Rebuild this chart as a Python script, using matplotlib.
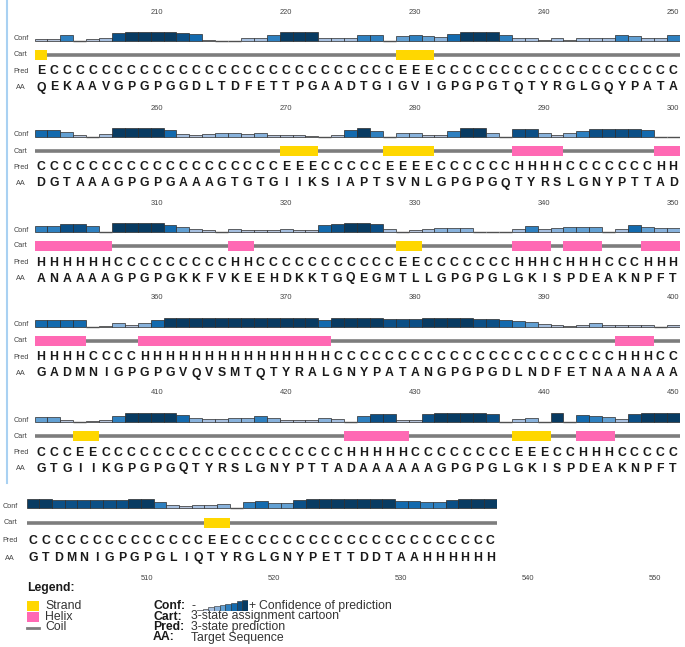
import matplotlib
matplotlib.use("Agg")
import matplotlib.pyplot as plt
from matplotlib.patches import Rectangle

plt.rcParams['font.family'] = ['Liberation Sans', 'DejaVu Sans']

# ---------------- data ----------------
row_start = [201, 251, 301, 351, 401, 501]

aa_1 = "QEKAAVGPGPGGDLTDFETTPGAADTGIGVIGPGPGTQTYRGLGQYPATA"
aa_2 = "DGTAAAGPGPGAAAGTGTGIIKSIAPTSVNLGPGPGQTYRSLGNYPTTAD"
aa_3 = "ANAAAAGPGPGKKFVKEEHDKKTGQEGMTLLGPGPGLGKISPDEAKNPFT"
aa_4 = "GADMNIGPGPGVQVSMTQTYRALGNYPATANGPGPGDLNDFETNAANAAA"
aa_5 = "GTGIIKGPGPGQTYRSLGNYPTTADAAAAAAGPGPGLGKISPDEAKNPFT"
aa_6 = "GTDMNIGPGPGLIQTYRGLGNYPETTDDTAAHHHHHH"

pred_1 = "ECCCCCCCCCCCCCCCCCCCCCCCCCCCEEECCCCCCCCCCCCCCCCCCC"
pred_2 = "CCCCCCCCCCCCCCCCCCCEEECCCCCEEEECCCCCCHHHHCCCCCCCHH"
pred_3 = "HHHHHHCCCCCCCCCHHCCCCCCCCCCCEECCCCCCCHHHCHHHCCCHHH"
pred_4 = "HHHHCCCCHHHHHHHHHHHHHHHCCCCCCCCCCCCCCCCCCCCCCHHHCC"
pred_5 = "CCCEECCCCCCCCCCCCCCCCCCCHHHHHCCCCCCCCEEECCHHHCCCCC"
pred_6 = "CCCCCCCCCCCCCCEECCCCCCCCCCCCCCCCCCCCC"

conf_1 = [2, 2, 6, 0, 2, 3, 8, 9, 9, 9, 9, 8, 7, 1, 0, 0, 3, 3, 6, 9,
          9, 9, 3, 3, 3, 6, 6, 0, 5, 6, 5, 4, 7, 9, 9, 9, 6, 3, 3, 1,
          3, 1, 3, 3, 3, 6, 5, 3, 3, 6]
conf_2 = [7, 7, 5, 2, 0, 3, 9, 9, 9, 9, 7, 3, 2, 3, 4, 4, 3, 4, 2, 2,
          2, 1, 0, 2, 7, 9, 6, 0, 4, 4, 2, 2, 6, 9, 9, 4, 0, 8, 8, 4,
          2, 4, 6, 8, 8, 8, 8, 7, 0, 0]
conf_3 = [6, 6, 8, 8, 6, 0, 9, 9, 9, 9, 7, 5, 3, 2, 0, 3, 2, 2, 2, 3,
          2, 2, 7, 8, 9, 9, 8, 3, 0, 2, 3, 4, 4, 4, 0, 0, 0, 3, 6, 3,
          4, 5, 5, 5, 0, 3, 7, 5, 4, 4]
conf_4 = [7, 7, 7, 7, 0, 1, 4, 2, 4, 7, 9, 9, 9, 9, 9, 9, 9, 9, 9, 9,
          9, 9, 7, 9, 9, 9, 9, 8, 8, 8, 9, 9, 9, 9, 8, 8, 7, 6, 5, 3,
          2, 1, 2, 4, 2, 2, 2, 2, 0, 2]
conf_5 = [5, 5, 2, 0, 1, 2, 6, 9, 9, 9, 9, 7, 4, 3, 3, 4, 4, 6, 4, 2,
          2, 2, 4, 3, 0, 6, 8, 8, 2, 2, 8, 9, 9, 9, 9, 8, 0, 3, 4, 0,
          9, 0, 7, 6, 5, 3, 8, 9, 9, 9]
conf_6 = [9, 9, 8, 8, 8, 8, 8, 8, 9, 9, 6, 3, 2, 3, 3, 4, 0, 6, 7, 5,
          5, 8, 9, 9, 9, 9, 9, 9, 9, 7, 7, 6, 6, 8, 9, 9, 9]

bottom_tick_labels = [510, 520, 530, 540, 550]

aa_rows = [aa_1, aa_2, aa_3, aa_4, aa_5, aa_6]
pred_rows = [pred_1, pred_2, pred_3, pred_4, pred_5, pred_6]
conf_rows = [conf_1, conf_2, conf_3, conf_4, conf_5, conf_6]

# ---------------- style ----------------
CONF_COLORS = ['#555555', '#b9bfc9', '#b5c3d9', '#a6bfdf', '#88b2dc',
               '#62a0d3', '#2e80c0', '#136aae', '#0b4f86', '#083b62']
STRAND = '#ffd700'
HELIX = '#ff69b4'
COIL = '#7d7d7d'
TXT = '#1a1a1a'

W, H, DPI = 685, 647, 100
fig = plt.figure(figsize=(W / DPI, H / DPI), dpi=DPI)
fig.patch.set_facecolor('white')


def px_axes(left, top, width, height):
    return fig.add_axes([left / W, 1 - (top + height) / H, width / W, height / H])


def ftext(x, y, s, **kw):
    fig.text(x / W, 1 - y / H, s, **kw)


# layout per row (pixels)
layout = []
for top in [0, 96, 191, 286, 381]:
    layout.append(dict(top=top, x0=34.55, step=12.9, base=41, cart=55,
                       pred=71.5, aa=87.5, tick=12, lab_x=21, h=100))
layout.append(dict(top=467, x0=26.7, step=12.7, base=41, cart=56,
                   pred=74, aa=91, tick=112, lab_x=10, h=120))

for k in range(6):
    L = layout[k]
    s = row_start[k]
    aa = aa_rows[k]
    pred = pred_rows[k]
    conf = conf_rows[k]
    n = len(aa)
    res = list(range(s, s + n))
    ax = px_axes(L['x0'], L['top'], n * L['step'], L['h'])
    ax.set_xlim(s - 0.5, s + n - 0.5)
    ax.set_ylim(L['h'], 0)
    ax.axis('off')

    # confidence bars
    for r, c in zip(res, conf):
        if c == 0:
            ax.plot([r - 0.5, r + 0.5], [L['base'] - 0.3, L['base'] - 0.3],
                    color='#505050', lw=1.0, solid_capstyle='butt')
        else:
            hgt = c * 1.05
            ax.bar(r, hgt, bottom=L['base'] - hgt, width=1.0,
                   color=CONF_COLORS[c], edgecolor='#2b2b2b', linewidth=0.5)

    # cartoon
    ax.plot([s - 0.5, s + n - 0.5], [L['cart'], L['cart']], color=COIL,
            lw=2.6, solid_capstyle='butt', zorder=1)
    i = 0
    while i < n:
        ch = pred[i]
        j = i
        while j < n and pred[j] == ch:
            j += 1
        if ch in 'EH':
            ax.add_patch(Rectangle((s + i - 0.5, L['cart'] - 5), j - i, 10,
                                   facecolor=STRAND if ch == 'E' else HELIX,
                                   edgecolor='none', zorder=2))
        i = j

    # letters
    for r, p, a in zip(res, pred, aa):
        ax.text(r, L['pred'], p, ha='center', va='center', fontsize=8.8,
                fontweight='bold', color=TXT)
        ax.text(r, L['aa'], a, ha='center', va='center', fontsize=8.8,
                fontweight='bold', color=TXT)

    # tick labels
    if k < 5:
        for v in range(s + 9, s + n, 10):
            ax.text(v, L['tick'], str(v), ha='center', va='center',
                    fontsize=5.4, color='#444444')
    else:
        for v in bottom_tick_labels:
            ax.text(v, L['tick'], str(v), ha='center', va='center',
                    fontsize=5.4, color='#444444', clip_on=False)

    # row labels
    for name, key in [('Conf', 'base'), ('Cart', 'cart'), ('Pred', 'pred'), ('AA', 'aa')]:
        yy = L['top'] + L[key] - (2 if key == 'base' else 0)
        ftext(L['lab_x'], yy, name, ha='center', va='center', fontsize=5.2,
              color='#444444')

# left border line of the screenshot
border = fig.add_axes([0, 0, 1, 1], facecolor='none')
border.set_xlim(0, W)
border.set_ylim(H, 0)
border.axis('off')
border.plot([7.5, 7.5], [0, 483], color='#a9d1f2', lw=1.5)

# ---------------- legend ----------------
FS = 8.8
ftext(27, 588, 'Legend:', fontsize=FS, fontweight='bold', color=TXT,
      ha='left', va='center')
border.add_patch(Rectangle((27, 601), 12, 10, facecolor=STRAND, edgecolor='none'))
border.add_patch(Rectangle((27, 612), 12, 10, facecolor=HELIX, edgecolor='none'))
border.plot([27, 39], [627.5, 627.5], color=COIL, lw=2)
for y, t in [(606, 'Strand'), (616.5, 'Helix'), (627, 'Coil')]:
    ftext(45, y, t, fontsize=FS, color='#333333', ha='left', va='center')

for y, t, d in [(606, 'Conf:', None), (616.5, 'Cart:', '3-state assignment cartoon'),
                (627, 'Pred:', '3-state prediction'), (637.5, 'AA:', 'Target Sequence')]:
    ftext(153, y, t, fontsize=FS, fontweight='bold', color=TXT, ha='left', va='center')
    if d:
        ftext(191, y, d, fontsize=FS, color='#333333', ha='left', va='center')
ftext(191, 606, '-', fontsize=FS, color='#333333', ha='left', va='center')
ftext(248, 606, '+', fontsize=FS, color='#333333', ha='left', va='center')
ftext(259, 606, 'Confidence of prediction', fontsize=FS, color='#333333',
      ha='left', va='center')
lax = px_axes(197, 600, 51, 11)
lax.set_xlim(0.5, 9.5)
lax.set_ylim(0, 10)
lax.axis('off')
lvl = list(range(1, 10))
lax.bar(lvl, [v * 1.1 for v in lvl], width=1.0, color=[CONF_COLORS[v] for v in lvl],
        edgecolor='#2b2b2b', linewidth=0.4)

fig.savefig('out.png', dpi=DPI, facecolor='white')
